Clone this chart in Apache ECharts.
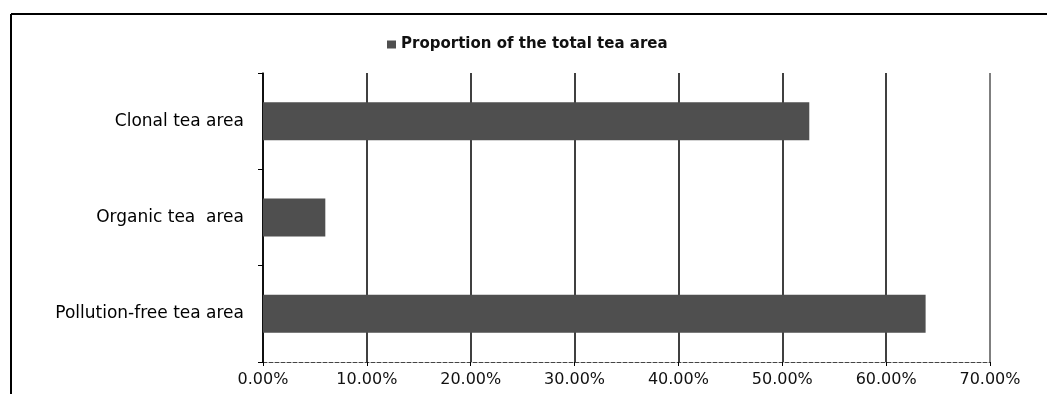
<!DOCTYPE html>
<html>
<head>
<meta charset="utf-8">
<script src="https://cdn.jsdelivr.net/npm/echarts@6/dist/echarts.min.js"></script>
<style>
  html, body { margin: 0; padding: 0; background: #fff; }
  #chart { width: 1047px; height: 394px; }
</style>
</head>
<body>
<div id="chart"></div>
<script>
var categories = ["Pollution-free tea area", "Organic tea  area", "Clonal tea area"];
var shareValues = [63.8, 6.0, 52.6];
var seriesName = "Proportion of the total tea area";
var tickMax = 70;
var tickStep = 10;

(function () {
  var chart = echarts.init(document.getElementById("chart"), null, { renderer: "canvas" });

  chart.setOption({
    animation: false,
    backgroundColor: "#fff",
    textStyle: { fontFamily: "DejaVu Sans", color: "#000" },
    graphic: [
      { type: "line", shape: { x1: 11, y1: 14, x2: 1047, y2: 14 }, style: { stroke: "#000", lineWidth: 2 } },
      { type: "line", shape: { x1: 11, y1: 14, x2: 11, y2: 394 }, style: { stroke: "#000", lineWidth: 2 } }
    ],
    legend: {
      data: [seriesName],
      left: 382,
      top: 32,
      icon: "rect",
      itemWidth: 9,
      itemHeight: 8,
      itemGap: 8,
      textStyle: { fontFamily: "DejaVu Sans", fontWeight: "bold", fontSize: 15, color: "#111" }
    },
    grid: { left: 263, right: 57, top: 73, bottom: 32, containLabel: false },
    xAxis: {
      type: "value",
      min: 0,
      max: tickMax,
      interval: tickStep,
      axisLine: { show: true, lineStyle: { color: "#444", type: "dashed", width: 1 } },
      axisTick: { show: true, length: 4, lineStyle: { color: "#000" } },
      axisLabel: {
        margin: 10,
        fontSize: 16,
        color: "#111",
        formatter: function (v) { return v.toFixed(2) + "%"; }
      },
      splitLine: {
        show: true,
        lineStyle: { color: ["#000", "#000", "#000", "#000", "#000", "#000", "#000", "#555"], width: 1.5 }
      }
    },
    yAxis: {
      type: "category",
      data: categories,
      axisLine: { show: true, lineStyle: { color: "#000", width: 1.5 } },
      axisTick: { show: true, length: 5, lineStyle: { color: "#000" } },
      axisLabel: { margin: 19, fontSize: 17, color: "#000" }
    },
    series: [
      {
        name: seriesName,
        type: "bar",
        data: shareValues,
        barWidth: 38,
        itemStyle: { color: "#4f4f4f" }
      }
    ]
  });
})();
</script>
</body>
</html>
